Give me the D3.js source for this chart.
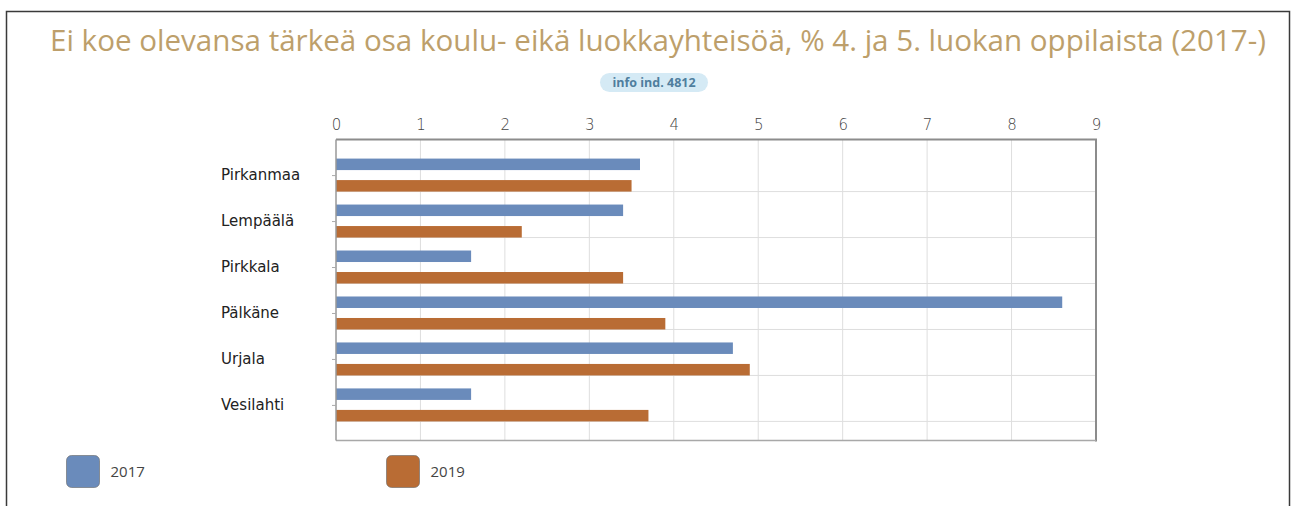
<!DOCTYPE html>
<html>
<head>
<meta charset="utf-8">
<script src="https://cdn.jsdelivr.net/npm/d3@7"></script>
<style>
  html, body { margin: 0; padding: 0; background: #fff; }
  svg { display: block; }
</style>
</head>
<body>
<div id="chart"></div>
<script>
var categories = ["Pirkanmaa", "Lempäälä", "Pirkkala", "Pälkäne", "Urjala", "Vesilahti"];
var seriesNames = ["2017", "2019"];
var values2017 = [3.6, 3.4, 1.6, 8.6, 4.7, 1.6];
var values2019 = [3.5, 2.2, 3.4, 3.9, 4.9, 3.7];
var xTicks = [0, 1, 2, 3, 4, 5, 6, 7, 8, 9];
var colors = ["#6a8bbb", "#b96c34"];

var title = "Ei koe olevansa tärkeä osa koulu- eikä luokkayhteisöä, % 4. ja 5. luokan oppilaista (2017-)";
var badge = "info ind. 4812";

var W = 1292, H = 506;
var plot = { left: 336, right: 1096, top: 139.5, bottom: 440.5 };

var svg = d3.select("#chart")
    .append("svg")
    .attr("width", W)
    .attr("height", H);

// outer frame (bottom edge runs off the picture)
svg.append("rect")
    .attr("x", 6.5).attr("y", 11.5)
    .attr("width", 1283).attr("height", 520)
    .attr("fill", "none")
    .attr("stroke", "#3a3a3a")
    .attr("stroke-width", 1.5);

svg.append("text")
    .attr("x", 50).attr("y", 51)
    .attr("textLength", 1216)
    .attr("lengthAdjust", "spacingAndGlyphs")
    .style("font-family", "'Open Sans', sans-serif")
    .style("font-size", "30px")
    .attr("fill", "#bd9f6b")
    .text(title);

// info badge
svg.append("rect")
    .attr("x", 600).attr("y", 73)
    .attr("width", 108).attr("height", 19)
    .attr("rx", 9.5)
    .attr("fill", "#d5eaf5");
svg.append("text")
    .attr("x", 654).attr("y", 87)
    .attr("text-anchor", "middle")
    .style("font-family", "'Open Sans', sans-serif")
    .style("font-size", "12.5px")
    .style("font-weight", "bold")
    .attr("fill", "#4f7e9e")
    .text(badge);

var x = d3.scaleLinear()
    .domain([0, 9])
    .range([plot.left, plot.right]);

var y = d3.scalePoint()
    .domain(categories)
    .range([plot.top, plot.bottom])
    .padding(0.774);

var yInner = d3.scaleBand()
    .domain(seriesNames)
    .range([-16.5, 16.5])
    .paddingInner(0.465);

var g = svg.append("g");

// vertical grid
g.selectAll(".vgrid")
    .data(xTicks.filter(d => d > 0 && d < 9))
    .enter().append("line")
    .attr("x1", d => x(d)).attr("x2", d => x(d))
    .attr("y1", plot.top).attr("y2", plot.bottom)
    .attr("stroke", "#dedede");

// horizontal grid, under each category's lower bar
g.selectAll(".hgrid")
    .data(categories)
    .enter().append("line")
    .attr("x1", plot.left).attr("x2", plot.right)
    .attr("y1", d => y(d) + 16.5).attr("y2", d => y(d) + 16.5)
    .attr("stroke", "#dedede");

// top axis labels
var xAxis = d3.axisTop(x).tickValues(xTicks).tickSize(0).tickPadding(9);
var ax = svg.append("g")
    .attr("transform", "translate(0," + (plot.top - 1) + ")")
    .call(xAxis);
ax.select(".domain").remove();
ax.attr("font-size", null).attr("font-family", null);
ax.selectAll("text")
    .attr("font-family", "'DejaVu Sans', sans-serif")
    .attr("font-size", 15)
    .attr("font-weight", 200)
    .attr("fill", "#444");

// bars
var rows = categories.map((c, i) => ({ cat: c, vals: [values2017[i], values2019[i]] }));
var cat = g.selectAll(".cat")
    .data(rows)
    .enter().append("g")
    .attr("transform", d => "translate(0," + y(d.cat) + ")");

cat.selectAll("rect")
    .data(d => d.vals.map((v, j) => ({ s: seriesNames[j], v: v, j: j })))
    .enter().append("rect")
    .attr("x", x(0))
    .attr("y", d => yInner(d.s))
    .attr("width", d => x(d.v) - x(0))
    .attr("height", yInner.bandwidth())
    .attr("fill", d => colors[d.j]);

// plot frame
g.append("line")
    .attr("x1", plot.left).attr("x2", plot.right + 1)
    .attr("y1", plot.top).attr("y2", plot.top)
    .attr("stroke", "#8c8c8c").attr("stroke-width", 2);
g.append("line")
    .attr("x1", plot.right).attr("x2", plot.right)
    .attr("y1", plot.top).attr("y2", plot.bottom + 1)
    .attr("stroke", "#8c8c8c").attr("stroke-width", 2);
g.append("line")
    .attr("x1", plot.left).attr("x2", plot.right)
    .attr("y1", plot.bottom).attr("y2", plot.bottom)
    .attr("stroke", "#a8a8a8").attr("stroke-width", 1.5);
g.append("line")
    .attr("x1", plot.left).attr("x2", plot.left)
    .attr("y1", plot.top).attr("y2", plot.bottom)
    .attr("stroke", "#999").attr("stroke-width", 1.5);

// category axis: labels sit left-aligned in a column
var yAxis = d3.axisLeft(y).tickSize(4).tickPadding(0);
var ay = svg.append("g")
    .attr("transform", "translate(" + plot.left + ",0)")
    .call(yAxis);
ay.select(".domain").remove();
ay.selectAll("line").attr("stroke", "#aaa");
ay.selectAll("text")
    .attr("x", 221 - plot.left)
    .attr("text-anchor", "start")
    .style("font-family", "'DejaVu Sans', sans-serif")
    .style("font-size", "15px")
    .style("fill", "#222");

// legend
var legendX = [66.5, 386.5];
var lg = svg.selectAll(".legend")
    .data(seriesNames)
    .enter().append("g")
    .attr("transform", (d, i) => "translate(" + legendX[i] + ",455.5)");
lg.append("rect")
    .attr("width", 33).attr("height", 32)
    .attr("rx", 5)
    .attr("fill", (d, i) => colors[i])
    .attr("stroke", "#666").attr("stroke-opacity", 0.6);
lg.append("text")
    .attr("x", 44).attr("y", 16)
    .attr("dy", "0.35em")
    .style("font-family", "'Open Sans', sans-serif")
    .style("font-size", "15px")
    .attr("fill", "#444")
    .text(d => d);
</script>
</body>
</html>
